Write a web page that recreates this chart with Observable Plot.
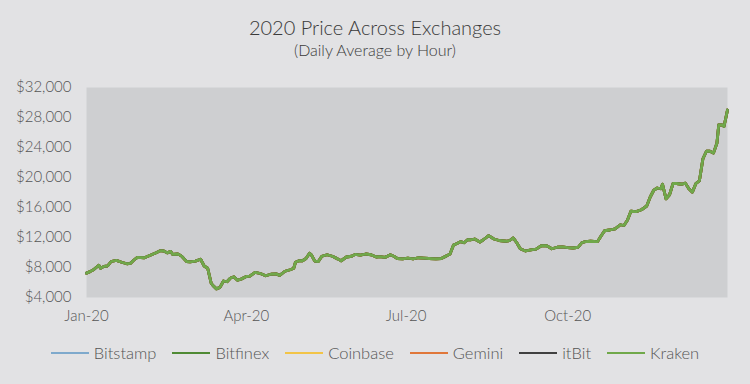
<!DOCTYPE html>
<html>
<head>
<meta charset="utf-8">
<script src="https://cdn.jsdelivr.net/npm/d3@7"></script>
<script src="https://cdn.jsdelivr.net/npm/@observablehq/plot@0.6"></script>
<style>
  html, body { margin: 0; padding: 0; background: #e2e2e4; }
  body { width: 750px; height: 384px; position: relative; overflow: hidden; font-family: Lato, "Open Sans", sans-serif; font-weight: 300; color: #404040; }
  .title { position: absolute; left: 0; width: 750px; text-align: center; top: 15px; line-height: 24px; font-size: 20px; color: #3a3a3a; }
  .subtitle { position: absolute; left: 0; width: 750px; text-align: center; top: 40px; line-height: 20px; font-size: 16px; color: #3a3a3a; }
  #chart { position: absolute; left: 0; top: 70px; }
  .legend { position: absolute; left: 0; width: 750px; top: 343px; height: 20px; display: flex; justify-content: center; align-items: center; font-size: 16.5px; color: #555; }
  .legend .item { display: flex; align-items: center; margin: 0 8px; }
  .legend .sw { width: 38px; height: 2px; margin-right: 5px; }
</style>
</head>
<body>
<div class="title">2020 Price Across Exchanges</div>
<div class="subtitle">(Daily Average by Hour)</div>
<div id="chart"></div>
<div class="legend" id="legend"></div>
<script>
const series = ["Bitstamp", "Bitfinex", "Coinbase", "Gemini", "itBit", "Kraken"];
const seriesColors = ["#7ea9cc", "#4f8a34", "#f2c447", "#e0773a", "#404040", "#70a84a"];

const dates = [
  "2020-01-01","2020-01-03","2020-01-05","2020-01-08","2020-01-09","2020-01-11","2020-01-13","2020-01-15","2020-01-18","2020-01-21",
  "2020-01-24","2020-01-26","2020-01-28","2020-01-30","2020-02-03","2020-02-05","2020-02-08","2020-02-10","2020-02-12","2020-02-14",
  "2020-02-16","2020-02-18","2020-02-19","2020-02-22","2020-02-24","2020-02-27","2020-02-29","2020-03-03","2020-03-06","2020-03-08",
  "2020-03-10","2020-03-12","2020-03-13","2020-03-15","2020-03-17","2020-03-19","2020-03-21","2020-03-23","2020-03-25","2020-03-27",
  "2020-03-29","2020-04-01","2020-04-03","2020-04-06","2020-04-09","2020-04-12","2020-04-15","2020-04-18","2020-04-20","2020-04-23",
  "2020-04-26","2020-04-28","2020-04-29","2020-05-01","2020-05-03","2020-05-05","2020-05-07","2020-05-08","2020-05-10","2020-05-12",
  "2020-05-14","2020-05-17","2020-05-20","2020-05-23","2020-05-25","2020-05-28","2020-05-31","2020-06-02","2020-06-05","2020-06-08",
  "2020-06-11","2020-06-14","2020-06-16","2020-06-19","2020-06-22","2020-06-24","2020-06-26","2020-06-29","2020-07-02","2020-07-05",
  "2020-07-08","2020-07-11","2020-07-14","2020-07-18","2020-07-21","2020-07-24","2020-07-26","2020-07-28","2020-07-30","2020-08-01",
  "2020-08-03","2020-08-05","2020-08-07","2020-08-09","2020-08-12","2020-08-14","2020-08-17","2020-08-20","2020-08-23","2020-08-27",
  "2020-08-29","2020-08-31","2020-09-02","2020-09-04","2020-09-07","2020-09-10","2020-09-13","2020-09-16","2020-09-19","2020-09-22",
  "2020-09-25","2020-09-28","2020-10-01","2020-10-04","2020-10-07","2020-10-09","2020-10-11","2020-10-14","2020-10-18","2020-10-20",
  "2020-10-22","2020-10-25","2020-10-28","2020-10-31","2020-11-02","2020-11-04","2020-11-06","2020-11-09","2020-11-12","2020-11-15",
  "2020-11-17","2020-11-19","2020-11-21","2020-11-23","2020-11-24","2020-11-26","2020-11-28","2020-11-30","2020-12-02","2020-12-05",
  "2020-12-07","2020-12-09","2020-12-11","2020-12-13","2020-12-15","2020-12-17","2020-12-19","2020-12-21","2020-12-23","2020-12-25",
  "2020-12-26","2020-12-28","2020-12-29","2020-12-31"
];
const prices = [
  7250, 7450, 7700, 8300, 7900, 8150, 8200, 8800, 8950, 8700,
  8500, 8550, 9000, 9350, 9300, 9500, 9800, 10000, 10250, 10200,
  9950, 10150, 9750, 9800, 9550, 8800, 8750, 8850, 9100, 8200,
  7900, 5900, 5600, 5150, 5350, 6200, 6100, 6600, 6750, 6300,
  6450, 6800, 6850, 7350, 7200, 6900, 7100, 7150, 6950, 7500,
  7700, 7900, 8700, 8900, 8900, 9200, 9900, 9700, 8850, 8800,
  9500, 9700, 9500, 9150, 8900, 9400, 9500, 9750, 9650, 9800,
  9700, 9400, 9450, 9350, 9700, 9500, 9200, 9150, 9250, 9150,
  9300, 9250, 9200, 9150, 9200, 9550, 9800, 11000, 11200, 11450,
  11300, 11700, 11700, 11800, 11400, 11700, 12250, 11800, 11600, 11500,
  11600, 11950, 11300, 10500, 10200, 10350, 10450, 10900, 10900, 10500,
  10700, 10750, 10650, 10600, 10700, 11300, 11450, 11500, 11450, 12200,
  12900, 13000, 13150, 13700, 13600, 14300, 15500, 15450, 15700, 16200,
  17400, 18300, 18600, 18500, 19100, 17150, 17700, 19200, 19200, 19100,
  19250, 18500, 18050, 19200, 19550, 22500, 23500, 23500, 23250, 24600,
  27000, 27000, 26800, 29000
];

const yTicks = [4000, 8000, 12000, 16000, 20000, 24000, 28000, 32000];
const xTickDates = ["2020-01-01", "2020-04-01", "2020-07-01", "2020-10-01"];

const data = dates.map((d, i) => ({date: new Date(d), price: prices[i]}));

const chart = Plot.plot({
  width: 750,
  height: 260,
  marginTop: 17,
  marginBottom: 33,
  marginLeft: 86,
  marginRight: 23,
  style: {background: "transparent", fontFamily: "Lato, 'Open Sans', sans-serif", fontSize: "15px", color: "#555"},
  x: {type: "utc", domain: [new Date("2020-01-01"), new Date("2020-12-31")]},
  y: {domain: [4000, 32000]},
  marks: [
    Plot.frame({fill: "#cecfd1", stroke: null}),
    Plot.axisY({ticks: yTicks, tickSize: 0, tickPadding: 15, tickFormat: d3.format("$,"), label: null, fontSize: 15, fill: "#555"}),
    Plot.axisX({ticks: xTickDates.map(d => new Date(d)), tickSize: 0, tickPadding: 13, tickFormat: d3.utcFormat("%b-%y"), label: null, fontSize: 15, fill: "#555"}),
    ...series.map((s, k) => Plot.line(data, {x: "date", y: "price", stroke: seriesColors[k], strokeWidth: 2.8, strokeLinejoin: "round"}))
  ]
});
document.getElementById("chart").appendChild(chart);

const legend = document.getElementById("legend");
series.forEach((s, k) => {
  const item = document.createElement("div");
  item.className = "item";
  const sw = document.createElement("div");
  sw.className = "sw";
  sw.style.background = seriesColors[k];
  const label = document.createElement("span");
  label.textContent = s;
  item.appendChild(sw);
  item.appendChild(label);
  legend.appendChild(item);
});
</script>
</body>
</html>
